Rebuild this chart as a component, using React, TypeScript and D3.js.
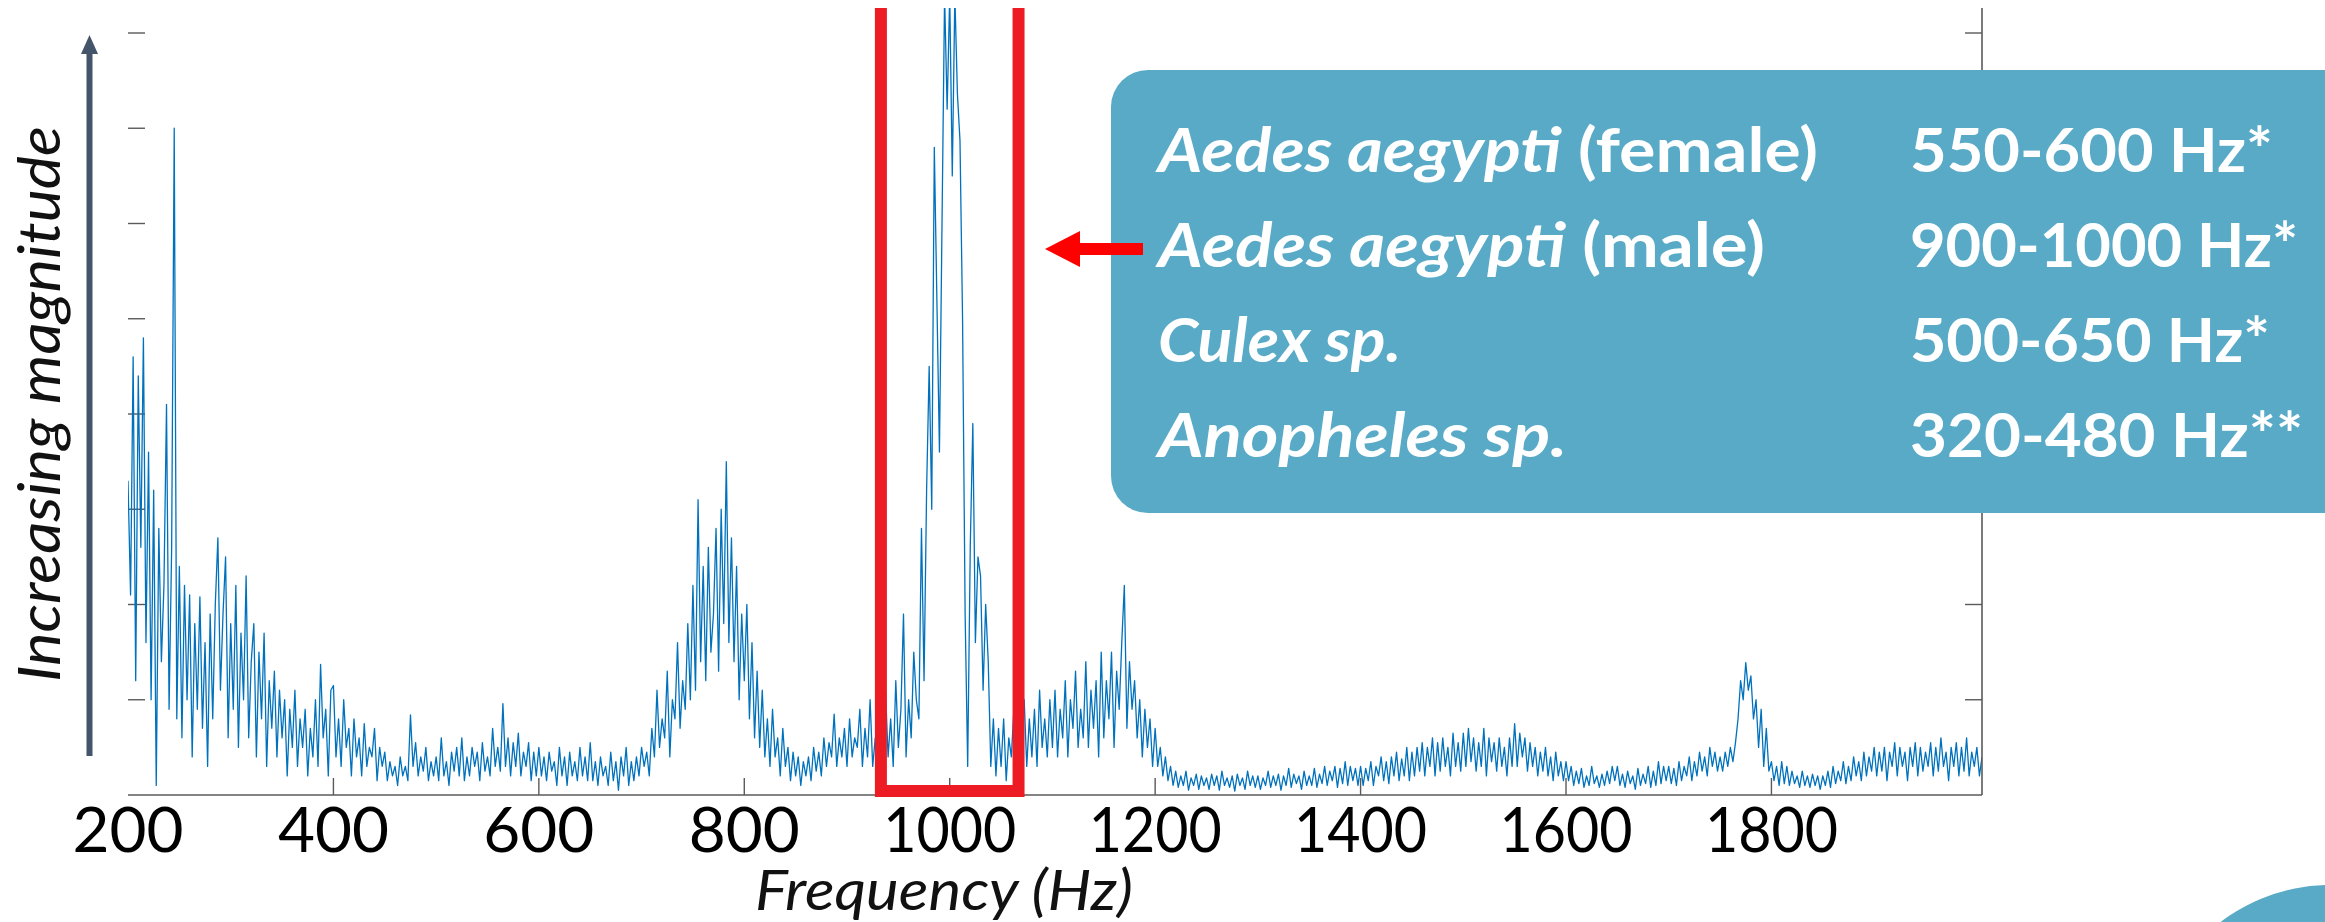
import * as d3 from 'd3'

// x axis ticks (Hz) and y ticks (arbitrary magnitude units)
const freqTicks = [200, 400, 600, 800, 1000, 1200, 1400, 1600, 1800]
const magTicks = [1, 2, 3, 4, 5, 6, 7, 8]

// spectrum, one value every 2.5 Hz starting at 200 Hz (each line = 50 Hz)
const freqStart = 200
const freqStep = 2.5
const magnitude = [
    3.3, 2.1, 4.6, 1.2, 4.4, 2.6, 4.8, 1.6, 3.6, 1.0, 3.2, 0.1, 2.8, 1.4, 2.2, 4.1, 0.9, 2.6, 7.0, 0.8,
    2.4, 0.6, 2.2, 1.0, 2.1, 0.4, 1.8, 0.9, 2.08, 0.7, 1.6, 0.3, 1.9, 0.8, 2.0, 2.7, 1.1, 1.9, 2.5, 0.6,
    1.8, 0.9, 2.2, 0.5, 1.7, 1.0, 2.3, 0.6, 1.4, 1.8, 0.4, 1.5, 0.8, 1.7, 0.3, 1.2, 0.7, 1.3, 0.4, 1.1,
    0.6, 1.0, 0.2, 0.9, 0.5, 1.1, 0.3, 0.8, 0.5, 0.9, 0.2, 0.7, 0.4, 1.0, 0.3, 1.37, 0.6, 0.9, 0.2, 1.1,
    1.15, 0.4, 0.8, 0.3, 1.0, 0.5, 0.7, 0.2, 0.8, 0.4, 0.6, 0.2, 0.75, 0.3, 0.5, 0.4, 0.7, 0.15, 0.5, 0.3,
    0.45, 0.15, 0.35, 0.2, 0.3, 0.1, 0.4, 0.2, 0.3, 0.15, 0.84, 0.3, 0.55, 0.2, 0.4, 0.25, 0.5, 0.15, 0.35, 0.2,
    0.4, 0.15, 0.6, 0.2, 0.35, 0.1, 0.45, 0.25, 0.5, 0.2, 0.6, 0.15, 0.4, 0.2, 0.5, 0.3, 0.45, 0.15, 0.55, 0.25,
    0.4, 0.2, 0.7, 0.3, 0.5, 0.25, 0.96, 0.3, 0.6, 0.2, 0.55, 0.3, 0.65, 0.2, 0.45, 0.3, 0.55, 0.15, 0.45, 0.2,
    0.5, 0.2, 0.4, 0.15, 0.45, 0.25, 0.35, 0.1, 0.5, 0.2, 0.4, 0.1, 0.45, 0.2, 0.35, 0.15, 0.5, 0.2, 0.4, 0.15,
    0.55, 0.15, 0.35, 0.1, 0.4, 0.2, 0.3, 0.1, 0.45, 0.15, 0.35, 0.05, 0.4, 0.2, 0.5, 0.1, 0.35, 0.15, 0.4, 0.2,
    0.5, 0.3, 0.45, 0.2, 0.7, 0.4, 1.1, 0.5, 0.8, 0.6, 1.3, 0.4, 1.0, 0.8, 1.6, 0.7, 1.2, 0.9, 1.8, 1.0,
    2.2, 1.1, 3.1, 1.4, 2.4, 1.2, 2.6, 1.5, 1.9, 2.8, 1.3, 3.0, 1.8, 3.5, 1.6, 2.7, 1.4, 2.4, 1.0, 1.9,
    1.2, 2.0, 0.8, 1.6, 0.6, 1.3, 0.5, 1.1, 0.4, 0.8, 0.3, 0.9, 0.4, 0.6, 0.2, 0.7, 0.3, 0.5, 0.15, 0.45,
    0.2, 0.4, 0.1, 0.35, 0.2, 0.4, 0.15, 0.5, 0.25, 0.45, 0.2, 0.6, 0.3, 0.55, 0.4, 0.85, 0.3, 0.6, 0.4, 0.7,
    0.3, 0.8, 0.4, 0.6, 0.5, 0.9, 0.3, 0.7, 0.4, 1.0, 0.3, 0.6, 0.5, 0.9, 0.2, 1.1, 0.4, 0.8, 0.3, 1.2,
    0.5, 0.9, 1.9, 0.4, 1.0, 0.6, 1.5, 1.0, 0.8, 2.8, 1.2, 3.2, 4.5, 3.0, 6.8, 5.2, 3.6, 6.0, 8.4, 7.2,
    8.4, 6.5, 8.4, 7.36, 6.87, 5.0, 1.9, 0.3, 2.6, 3.9, 1.6, 2.5, 2.3, 1.1, 2.0, 1.4, 0.3, 0.8, 0.2, 0.7,
    0.3, 0.8, 0.15, 0.6, 0.4, 0.9, 0.2, 0.7, 0.5, 1.0, 0.3, 0.8, 0.4, 0.9, 0.3, 1.1, 0.5, 0.8, 0.4, 1.0,
    0.5, 1.1, 0.4, 0.9, 0.6, 1.2, 0.4, 1.0, 0.7, 1.3, 0.5, 0.9, 0.6, 1.4, 0.5, 1.1, 0.7, 1.2, 0.4, 1.5,
    0.6, 1.2, 0.8, 1.5, 0.5, 1.3, 0.9, 1.6, 2.2, 0.7, 1.4, 0.9, 1.2, 0.6, 1.0, 0.4, 0.9, 0.5, 0.8, 0.3,
    0.7, 0.3, 0.5, 0.2, 0.4, 0.15, 0.3, 0.1, 0.25, 0.08, 0.2, 0.1, 0.25, 0.05, 0.18, 0.1, 0.22, 0.06, 0.2, 0.1,
    0.18, 0.06, 0.22, 0.1, 0.2, 0.05, 0.25, 0.1, 0.18, 0.08, 0.2, 0.04, 0.22, 0.1, 0.18, 0.06, 0.25, 0.1, 0.2, 0.08,
    0.2, 0.06, 0.18, 0.1, 0.25, 0.08, 0.2, 0.1, 0.22, 0.05, 0.2, 0.1, 0.28, 0.08, 0.22, 0.12, 0.2, 0.06, 0.25, 0.1,
    0.2, 0.1, 0.28, 0.08, 0.22, 0.12, 0.3, 0.1, 0.25, 0.15, 0.3, 0.08, 0.28, 0.12, 0.35, 0.1, 0.3, 0.15, 0.28, 0.1,
    0.3, 0.1, 0.28, 0.15, 0.35, 0.1, 0.3, 0.2, 0.4, 0.15, 0.35, 0.12, 0.4, 0.2, 0.45, 0.15, 0.38, 0.2, 0.5, 0.15,
    0.45, 0.2, 0.5, 0.25, 0.55, 0.2, 0.5, 0.3, 0.6, 0.2, 0.55, 0.25, 0.6, 0.3, 0.5, 0.2, 0.65, 0.3, 0.55, 0.25,
    0.65, 0.3, 0.7, 0.35, 0.6, 0.25, 0.55, 0.3, 0.7, 0.2, 0.6, 0.35, 0.55, 0.25, 0.6, 0.3, 0.5, 0.2, 0.6, 0.3,
    0.75, 0.3, 0.65, 0.4, 0.6, 0.25, 0.55, 0.3, 0.5, 0.2, 0.45, 0.25, 0.5, 0.2, 0.4, 0.15, 0.45, 0.2, 0.35, 0.15,
    0.35, 0.15, 0.3, 0.1, 0.25, 0.12, 0.28, 0.08, 0.2, 0.1, 0.3, 0.12, 0.2, 0.08, 0.22, 0.1, 0.25, 0.12, 0.3, 0.15,
    0.3, 0.1, 0.22, 0.08, 0.25, 0.12, 0.2, 0.06, 0.28, 0.1, 0.22, 0.12, 0.3, 0.08, 0.25, 0.1, 0.35, 0.12, 0.3, 0.15,
    0.3, 0.12, 0.28, 0.1, 0.35, 0.15, 0.3, 0.2, 0.4, 0.15, 0.35, 0.2, 0.45, 0.25, 0.4, 0.2, 0.5, 0.3, 0.45, 0.25,
    0.4, 0.25, 0.45, 0.3, 0.5, 0.35, 0.55, 0.8, 1.2, 1.0, 1.39, 1.1, 1.25, 0.8, 1.0, 0.5, 0.9, 0.3, 0.7, 0.25,
    0.35, 0.15, 0.3, 0.1, 0.35, 0.12, 0.3, 0.1, 0.25, 0.12, 0.2, 0.08, 0.25, 0.1, 0.2, 0.08, 0.22, 0.1, 0.2, 0.06,
    0.2, 0.1, 0.25, 0.08, 0.3, 0.12, 0.25, 0.15, 0.35, 0.12, 0.3, 0.15, 0.4, 0.2, 0.35, 0.15, 0.45, 0.2, 0.4, 0.25,
    0.5, 0.2, 0.45, 0.25, 0.5, 0.15, 0.45, 0.3, 0.55, 0.2, 0.5, 0.3, 0.45, 0.15, 0.5, 0.3, 0.55, 0.2, 0.5, 0.25,
    0.45, 0.3, 0.55, 0.2, 0.5, 0.25, 0.6, 0.3, 0.45, 0.15, 0.5, 0.3, 0.55, 0.2, 0.5, 0.25, 0.6, 0.2, 0.45, 0.3, 0.5, 0.2, 0.4,
]

// red highlight around the male Aedes peak (Hz)
const highlightBand = [933, 1067]

// legend box rows
const species = ['Aedes aegypti', 'Aedes aegypti', 'Culex sp.', 'Anopheles sp.']
const sexes = ['(female)', '(male)', '', '']
const ranges = ['550-600 Hz*', '900-1000 Hz*', '500-650 Hz*', '320-480 Hz**']

const W = 2325
const H = 922
const plot = { left: 128, right: 1982, top: 8, bottom: 795 }
const boxColor = '#58aac7'
const lineColor = '#0072bd'
const axisColor = '#5a5a5a'
// rendered widths of the legend texts (the original face is wider than Lato)
const nameWidths = [660, 607, 243, 409]
const rangeWidths = [363, 388, 360, 393]

const App = () => {
    const x = d3.scaleLinear().domain([freqStart, 2005]).range([plot.left, plot.right])
    const y = d3.scaleLinear().domain([0, 8]).range([plot.bottom, 33])

    const points = magnitude.map((v, i) => ({ f: freqStart + i * freqStep, v }))
    const line = d3.line<{ f: number, v: number }>().x(d => x(d.f)).y(d => y(d.v))

    const bx0 = x(highlightBand[0])
    const bx1 = x(highlightBand[1])
    const redPath = `M${bx0},${plot.top} L${bx0},791 L${bx1},791 L${bx1},${plot.top}`

    const rowY = (i: number) => 172 + i * 95

    return (
        <svg width={W} height={H} style={{ position: 'absolute', left: 0, top: 0, display: 'block' }}
            fontFamily="Lato, 'Open Sans', sans-serif">
            <rect width={W} height={H} fill="#ffffff" />
            <defs>
                <clipPath id="plotClip">
                    <rect x={plot.left} y={plot.top} width={plot.right - plot.left} height={plot.bottom - plot.top} />
                </clipPath>
            </defs>

            {/* y label + arrow */}
            <text transform="translate(60,404) rotate(-90)" textAnchor="middle" fontSize={58}
                fontStyle="italic" fill="#111" textLength={556} lengthAdjust="spacingAndGlyphs">Increasing magnitude</text>
            <rect x={86.5} y={50} width={6} height={706} fill="#44546a" />
            <path d="M89.5,35 L98,54 L81,54 Z" fill="#44546a" />

            {/* ticks */}
            {magTicks.map(t => (
                <g key={'yt' + t} stroke={axisColor} strokeWidth={1.4}>
                    <line x1={plot.left} x2={plot.left + 17} y1={y(t)} y2={y(t)} />
                    <line x1={plot.right - 17} x2={plot.right} y1={y(t)} y2={y(t)} />
                </g>
            ))}
            {freqTicks.slice(1).map(t => (
                <line key={'xt' + t} x1={x(t)} x2={x(t)} y1={plot.bottom} y2={plot.bottom - 17}
                    stroke={axisColor} strokeWidth={1.4} />
            ))}

            {/* spectrum */}
            <path d={line(points) || ''} fill="none" stroke={lineColor} strokeWidth={1.3}
                strokeLinejoin="round" clipPath="url(#plotClip)" />

            {/* frame: bottom + right only */}
            <line x1={plot.left} x2={plot.right} y1={plot.bottom} y2={plot.bottom} stroke={axisColor} strokeWidth={1.6} />
            <line x1={plot.right} x2={plot.right} y1={plot.top} y2={plot.bottom} stroke={axisColor} strokeWidth={1.6} />

            {/* tick labels */}
            {freqTicks.map(t => {
                const label = String(t)
                return (
                    <text key={'xl' + t} x={x(t)} y={852} textAnchor="middle" fontSize={62} fill="#000"
                        textLength={label.length > 3 ? 133 : 111} lengthAdjust="spacingAndGlyphs">{label}</text>
                )
            })}
            <text x={944} y={910} textAnchor="middle" fontSize={56} fontStyle="italic" fill="#111"
                textLength={378} lengthAdjust="spacingAndGlyphs">Frequency (Hz)</text>

            {/* red highlight */}
            <path d={redPath} fill="none" stroke="#ed1c24" strokeWidth={12} />

            {/* legend box */}
            <rect x={1111} y={70} width={1400} height={443} rx={37} fill={boxColor} />
            <path d="M1045,249 L1080,231 L1080,243 L1143,243 L1143,255 L1080,255 L1080,267 Z" fill="#ff0000" />
            {species.map((s, i) => (
                <g key={'row' + i} fill="#ffffff" fontWeight={700} fontSize={62}>
                    <text x={1158} y={rowY(i)} textLength={nameWidths[i]} lengthAdjust="spacingAndGlyphs">
                        <tspan fontStyle="italic">{s}</tspan>
                        {sexes[i] ? <tspan>{' ' + sexes[i]}</tspan> : null}
                    </text>
                    <text x={1910} y={rowY(i)} textLength={rangeWidths[i]} lengthAdjust="spacingAndGlyphs">{ranges[i]}</text>
                </g>
            ))}

            {/* corner decoration */}
            <circle cx={2330} cy={1065} r={180} fill={boxColor} />
        </svg>
    )
}

export default App
